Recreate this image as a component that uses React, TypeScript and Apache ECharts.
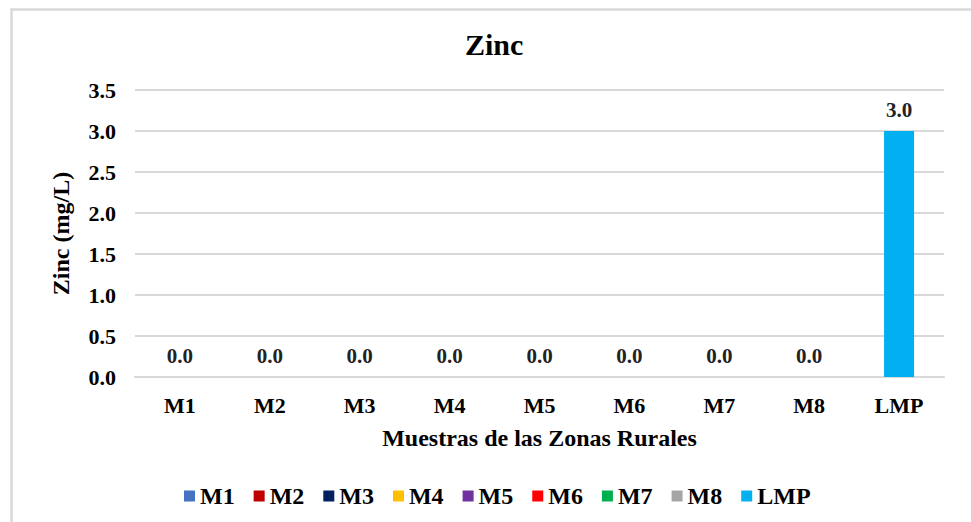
import React, { useEffect, useRef } from "react";
import * as echarts from "echarts";

const categories = ["M1", "M2", "M3", "M4", "M5", "M6", "M7", "M8", "LMP"];
const values = [0.0, 0.0, 0.0, 0.0, 0.0, 0.0, 0.0, 0.0, 3.0];
const colors = ["#4472C4", "#C00000", "#002060", "#FFC000", "#7030A0", "#FF0000", "#00B050", "#A5A5A5", "#00B0F0"];
const yTicks = { min: 0, max: 3.5, interval: 0.5 };

const FONT = "Liberation Serif, Times New Roman, serif";

export default function App() {
  const ref = useRef<HTMLDivElement>(null);
  useEffect(() => {
    if (!ref.current) return;
    const chart = echarts.init(ref.current, undefined, { renderer: "svg" });
    const series = categories.map((name, i) => ({
      name,
      type: "bar",
      stack: "all",
      barWidth: 30,
      itemStyle: { color: colors[i] },
      label: {
        show: true,
        position: "top",
        distance: 11,
        formatter: (p: any) => Number(p.value).toFixed(1),
        fontFamily: FONT,
        fontWeight: "bold",
        fontSize: 21,
        color: "#222",
      },
      data: categories.map((_, j) => (j === i ? values[i] : null)),
    }));
    chart.setOption({
      animation: false,
      backgroundColor: "#fff",
      textStyle: { fontFamily: FONT },
      graphic: [
        {
          type: "rect",
          z: -10,
          shape: { x: 11.5, y: 9.5, width: 1100, height: 700 },
          style: { fill: "none", stroke: "#d9d9d9", lineWidth: 2.5 },
        },
      ],
      title: {
        text: "Zinc",
        left: 460,
        top: 24,
        textStyle: { fontFamily: FONT, fontWeight: "bold", fontSize: 30, color: "#000" },
      },
      legend: {
        data: categories,
        top: 479,
        left: 179,
        icon: "rect",
        itemWidth: 11,
        itemHeight: 11,
        itemGap: 19,
        textStyle: { fontFamily: FONT, fontWeight: "bold", fontSize: 24, color: "#000" },
      },
      grid: { left: 135, right: 27, top: 90, bottom: 145 },
      xAxis: {
        type: "category",
        data: categories,
        name: "Muestras de las Zonas Rurales",
        nameLocation: "middle",
        nameGap: 49,
        nameTextStyle: { fontFamily: FONT, fontWeight: "bold", fontSize: 24, color: "#000" },
        axisLine: { lineStyle: { color: "#d9d9d9", width: 2 } },
        axisTick: { show: false },
        axisLabel: { fontFamily: FONT, fontWeight: "bold", fontSize: 22, color: "#000", margin: 17 },
      },
      yAxis: {
        type: "value",
        min: yTicks.min,
        max: yTicks.max,
        interval: yTicks.interval,
        name: "Zinc (mg/L)",
        nameLocation: "middle",
        nameGap: 62,
        nameTextStyle: { fontFamily: FONT, fontWeight: "bold", fontSize: 24, color: "#000" },
        axisLine: { show: false },
        axisTick: { show: false },
        splitLine: { lineStyle: { color: "#d9d9d9", width: 2 } },
        axisLabel: {
          fontFamily: FONT,
          fontWeight: "bold",
          fontSize: 22,
          color: "#000",
          margin: 19,
          formatter: (v: number) => v.toFixed(1),
        },
      },
      series,
    });
    return () => chart.dispose();
  }, []);
  return <div ref={ref} style={{ position: "absolute", left: 0, top: 0, width: 971, height: 522 }} />;
}
